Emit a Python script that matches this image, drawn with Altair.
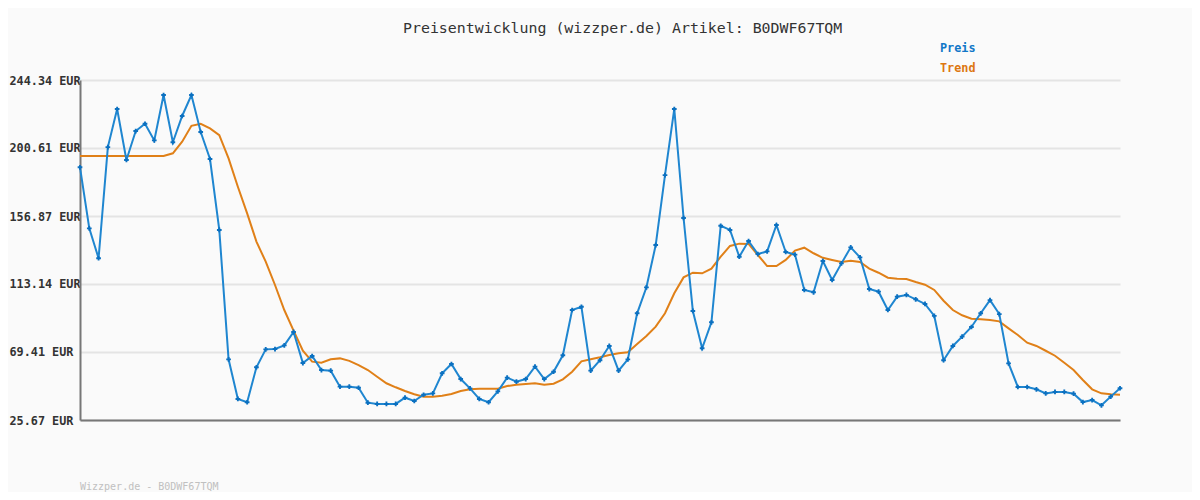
import altair as alt
import pandas as pd

# ---- data ----
price = [188.2, 148.9, 129.7, 201.2, 225.7, 192.9, 211.5, 216.2, 205.5, 234.7,
         204.3, 221.2, 234.7, 210.9, 193.5, 147.9, 64.7, 39.2, 37.1, 59.6,
         71.1, 71.3, 73.7, 82.3, 62.3, 66.8, 57.8, 57.4, 47.1, 47.1,
         46.4, 36.8, 36.0, 36.0, 36.0, 40.0, 37.9, 41.9, 42.8, 55.7,
         61.7, 52.0, 46.0, 39.2, 37.1, 44.1, 52.9, 50.3, 52.0, 60.0,
         52.0, 56.7, 67.3, 96.4, 98.5, 57.4, 64.1, 73.3, 57.4, 64.7,
         94.3, 111.0, 138.2, 183.2, 225.7, 155.6, 95.8, 71.8, 88.5, 150.6,
         147.9, 130.7, 140.8, 132.4, 134.1, 151.1, 133.7, 132.0, 109.3, 107.8,
         127.9, 115.7, 126.4, 136.7, 130.3, 109.9, 108.2, 96.4, 105.0, 106.1,
         103.3, 100.3, 92.6, 64.1, 73.3, 79.3, 85.5, 94.3, 102.8, 93.8,
         62.1, 46.9, 46.9, 45.4, 42.8, 43.7, 43.7, 42.6, 37.2, 38.5,
         35.1, 40.7, 46.1]

trend = [195.5, 195.5, 195.5, 195.5, 195.5, 195.5, 195.5, 195.5, 195.5, 195.5,
         197.2, 204.7, 214.9, 216.2, 213.2, 208.9, 193.9, 175.7, 158.6, 140.4,
         127.5, 112.5, 96.4, 83.1, 70.2, 63.2, 62.5, 64.7, 65.3, 63.7,
         61.0, 57.8, 53.5, 49.3, 46.7, 44.3, 42.2, 40.7, 40.7, 41.3,
         42.4, 44.3, 45.4, 45.8, 45.8, 45.8, 47.5, 48.4, 48.8, 49.3,
         48.4, 49.0, 51.8, 56.7, 63.4, 64.7, 66.0, 67.5, 68.6, 69.2,
         74.5, 79.7, 85.7, 94.3, 107.2, 117.4, 120.4, 120.0, 123.0, 130.7,
         137.6, 139.1, 138.9, 131.8, 124.7, 124.7, 128.6, 134.6, 136.5, 132.9,
         130.0, 128.6, 127.3, 128.1, 127.3, 123.0, 120.4, 117.2, 116.5, 116.3,
         114.4, 112.7, 109.3, 102.4, 96.4, 93.0, 90.8, 90.4, 90.0, 89.1,
         84.6, 80.3, 75.4, 73.3, 70.2, 67.0, 62.5, 57.8, 51.4, 45.4,
         42.8, 42.2, 41.9]

y_ticks = [25.67, 69.41, 113.14, 156.87, 200.61, 244.34]
title_text = "Preisentwicklung (wizzper.de) Artikel: B0DWF67TQM"
legend_labels = ["Preis", "Trend"]
footer_text = "Wizzper.de - B0DWF67TQM"

df = pd.DataFrame({"i": list(range(len(price))), "price": price, "trend": trend})

MONO = "DejaVu Sans Mono"
BLUE = "#1f86d0"
BLUE_DARK = "#0b70c0"
ORANGE = "#e08018"

x_enc = alt.X("i:Q", scale=alt.Scale(domain=[0, len(price) - 1], nice=False, zero=False),
              axis=alt.Axis(labels=False, ticks=False, grid=False, title=None,
                            domainColor="#777777", domainWidth=2))
y_scale = alt.Scale(domain=[y_ticks[0], y_ticks[-1]], nice=False, zero=False)
y_axis = alt.Axis(values=y_ticks, title=None, grid=True, gridColor="#e4e4e4", gridWidth=2,
                  ticks=False, tickSize=0, labelAlign="left", labelPadding=71,
                  labelBaseline="middle", labelFont=MONO, labelFontSize=11.8,
                  labelFontWeight="bold", labelColor="#333333",
                  labelExpr="format(datum.value, '.2f') + ' EUR'",
                  domainColor="#777777", domainWidth=2)

base = alt.Chart(df)

trend_line = base.mark_line(color=ORANGE, strokeWidth=2).encode(
    x=x_enc, y=alt.Y("trend:Q", scale=y_scale, axis=y_axis))
price_line = base.mark_line(color=BLUE, strokeWidth=2).encode(
    x=x_enc, y=alt.Y("price:Q", scale=y_scale, axis=y_axis))
price_pts = base.mark_point(shape="cross", filled=True, size=22, color=BLUE_DARK, opacity=1).encode(
    x=x_enc, y=alt.Y("price:Q", scale=y_scale, axis=y_axis))

title = alt.Chart(pd.DataFrame({"t": [title_text]})).mark_text(
    font=MONO, fontSize=14.9, color="#333333", align="left", baseline="middle").encode(
    text="t:N", x=alt.value(323), y=alt.value(-51))

leg_preis = alt.Chart(pd.DataFrame({"t": [legend_labels[0]]})).mark_text(
    font=MONO, fontSize=11.8, fontWeight="bold", color="#1177c8", align="left", baseline="middle").encode(
    text="t:N", x=alt.value(860), y=alt.value(-32))
leg_trend = alt.Chart(pd.DataFrame({"t": [legend_labels[1]]})).mark_text(
    font=MONO, fontSize=11.8, fontWeight="bold", color="#dd7711", align="left", baseline="middle").encode(
    text="t:N", x=alt.value(860), y=alt.value(-12))

footer = alt.Chart(pd.DataFrame({"t": [footer_text]})).mark_text(
    font=MONO, fontSize=10, color="#c0c0c0", align="left", baseline="middle").encode(
    text="t:N", x=alt.value(0), y=alt.value(407))

chart = alt.layer(trend_line, price_line, price_pts, title, leg_preis, leg_trend, footer).properties(
    width=1040, height=340,
    padding={"left": 72, "top": 72, "right": 72, "bottom": 72},
    autosize=alt.AutoSizeParams(type="none"),
    background="#fafafa",
).configure_view(stroke=None)

chart.save("out.html", embed_options={"renderer": "svg", "actions": False})
